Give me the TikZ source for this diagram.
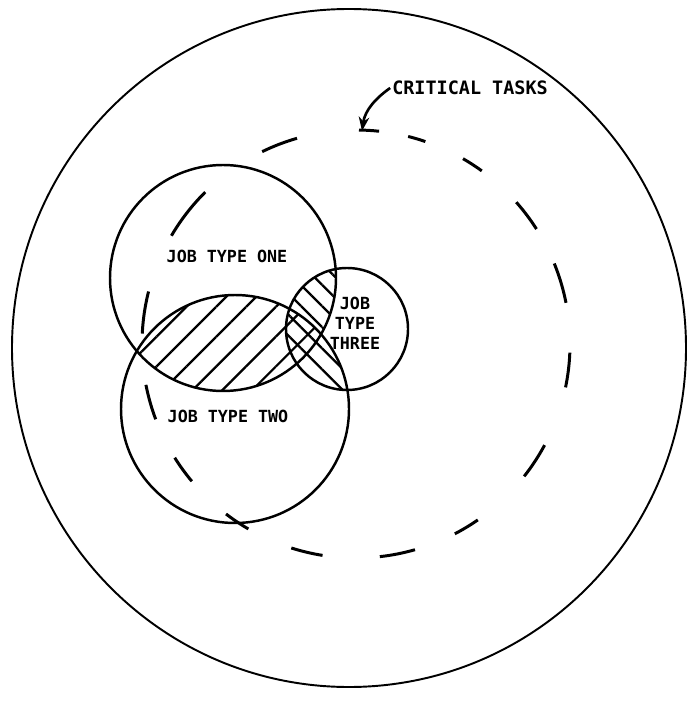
\documentclass[tikz,border=0pt]{standalone}
\usepackage{fontspec}
\newfontfamily\letterfont{DejaVu Sans Mono}
\usepackage{tikz}
\usetikzlibrary{arrows.meta,positioning,patterns.meta}

\begin{document}
\begin{tikzpicture}[x=0.02cm, y=-0.02cm,
    ring/.style={draw=black, line width=1.1pt},
    jobcircle/.style={draw=black, line width=1.4pt},
    critdash/.style={draw=black, line width=1.7pt},
    arrow/.style={-{Stealth[length=8pt,width=6pt]}, line width=1.5pt},
    lettering/.style={font=\letterfont\bfseries\fontsize{9.5}{11.4}\selectfont,
                      inner sep=1pt, align=center},
    hatchone/.style={pattern={Lines[angle=45,distance=12pt,line width=1.3pt]}},
    hatchtwo/.style={pattern={Lines[angle=-45,distance=8.5pt,line width=1.3pt]}}
]
    \useasboundingbox (0,0) rectangle (687,702);

    % outer boundary
    \draw[ring] (349,348) ellipse[x radius=337, y radius=339];

    \coordinate (one)   at (223,278);
    \coordinate (two)   at (235,409);
    \coordinate (three) at (347,329);
    \coordinate (crit)  at (356,344);
    \coordinate (tip)   at (362,131);

    % overlap hatching
    \begin{scope}
        \clip (one) circle[radius=113];
        \fill[hatchone] (two) circle[radius=114];
    \end{scope}
    \begin{scope}
        \clip (three) circle[radius=61];
        \fill[hatchtwo] (one) circle[radius=113] (two) circle[radius=114];
    \end{scope}

    \draw[jobcircle] (one)   circle[radius=113];
    \draw[jobcircle] (two)   circle[radius=114];
    \draw[jobcircle] (three) circle[radius=61];

    % critical tasks boundary
    \foreach \a/\h in {217.8/7.4, 249/5, 273.5/2.7, 286.5/2.4, 303/3, 323/4.5,
                       343.4/5.5, 7/4.7, 33.2/5, 58.9/3.6, 78.8/4.8, 103.3/4.3,
                       123.8/3.6, 144/3.9, 164.2/4.8, 188.5/5.7}
        \draw[critdash] (crit) ++(\a-\h:214) arc[start angle=\a-\h, end angle=\a+\h, radius=214];

    \node[lettering] (jobone)   at (227,256) {JOB TYPE ONE};
    \node[lettering] (jobtwo)   at (228,416) {JOB TYPE TWO};
    \node[lettering] (jobthree) at (355,323) {JOB\\TYPE\\THREE};
    \node[lettering, font=\letterfont\bfseries\fontsize{10.5}{12}\selectfont]
        (crittext) at (470,88) {CRITICAL TASKS};

    \draw[arrow] (crittext.west) .. controls (376,98) and (365,110) .. (tip);
\end{tikzpicture}
\end{document}
